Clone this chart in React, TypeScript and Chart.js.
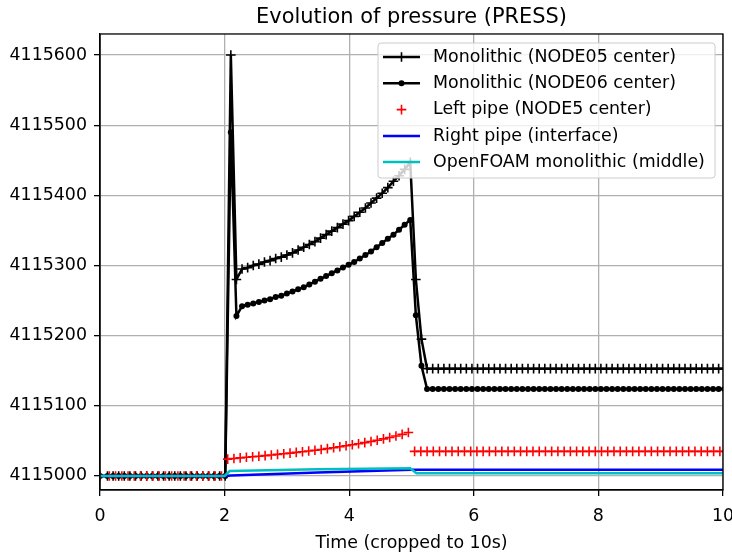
import React, { useEffect, useRef } from 'react';
import { Chart, registerables } from 'chart.js';

Chart.register(...registerables);

const TITLE = 'Evolution of pressure (PRESS)';
const X_LABEL = 'Time (cropped to 10s)';
const X_TICKS = [0, 2, 4, 6, 8, 10];
const Y_TICKS = [4115000, 4115100, 4115200, 4115300, 4115400, 4115500, 4115600];
const SERIES_NAMES = [
  'Monolithic (NODE05 center)',
  'Monolithic (NODE06 center)',
  'Left pipe (NODE5 center)',
  'Right pipe (interface)',
  'OpenFOAM monolithic (middle)',
];

const monoTimes = [
  0, 0.12, 0.21, 0.3, 0.39, 0.48, 0.57, 0.66, 0.75, 0.84,
  0.93, 1.02, 1.11, 1.2, 1.29, 1.38, 1.47, 1.56, 1.65, 1.74,
  1.83, 1.92, 2.01,
  2.1, 2.19, 2.28, 2.37, 2.46, 2.55, 2.64, 2.73, 2.82, 2.91,
  3.0, 3.09, 3.18, 3.27, 3.36, 3.45, 3.54, 3.63, 3.72, 3.81,
  3.9, 3.99, 4.08, 4.17, 4.26, 4.35, 4.44, 4.53, 4.62, 4.71,
  4.8, 4.89, 4.98,
  5.07, 5.16,
  5.25, 5.34, 5.43, 5.52, 5.61, 5.7, 5.79, 5.88, 5.97, 6.06,
  6.15, 6.24, 6.33, 6.42, 6.51, 6.6, 6.69, 6.78, 6.87, 6.96,
  7.05, 7.14, 7.23, 7.32, 7.41, 7.5, 7.59, 7.68, 7.77, 7.86,
  7.95, 8.04, 8.13, 8.22, 8.31, 8.4, 8.49, 8.58, 8.67, 8.76,
  8.85, 8.94, 9.03, 9.12, 9.21, 9.3, 9.39, 9.48, 9.57, 9.66,
  9.75, 9.84, 9.93, 10.02,
];

const node05 = [
  4115000, 4115000, 4115000, 4115000, 4115000, 4115000, 4115000, 4115000, 4115000, 4115000,
  4115000, 4115000, 4115000, 4115000, 4115000, 4115000, 4115000, 4115000, 4115000, 4115000,
  4115000, 4115000, 4115000,
  4115600, 4115280, 4115295, 4115297, 4115300, 4115302, 4115305, 4115307, 4115310, 4115312,
  4115315, 4115318, 4115322, 4115326, 4115330, 4115334, 4115339, 4115344, 4115349, 4115354,
  4115359, 4115364, 4115370, 4115376, 4115382, 4115389, 4115396, 4115403, 4115411, 4115420,
  4115428, 4115437, 4115447,
  4115280, 4115195,
  4115153, 4115153, 4115153, 4115153, 4115153, 4115153, 4115153, 4115153, 4115153, 4115153,
  4115153, 4115153, 4115153, 4115153, 4115153, 4115153, 4115153, 4115153, 4115153, 4115153,
  4115153, 4115153, 4115153, 4115153, 4115153, 4115153, 4115153, 4115153, 4115153, 4115153,
  4115153, 4115153, 4115153, 4115153, 4115153, 4115153, 4115153, 4115153, 4115153, 4115153,
  4115153, 4115153, 4115153, 4115153, 4115153, 4115153, 4115153, 4115153, 4115153, 4115153,
  4115153, 4115153, 4115153, 4115153,
];

const node06 = [
  4115000, 4115000, 4115000, 4115000, 4115000, 4115000, 4115000, 4115000, 4115000, 4115000,
  4115000, 4115000, 4115000, 4115000, 4115000, 4115000, 4115000, 4115000, 4115000, 4115000,
  4115000, 4115000, 4115000,
  4115490, 4115228, 4115242, 4115244, 4115246, 4115248, 4115250, 4115252, 4115255, 4115257,
  4115260, 4115263, 4115266, 4115269, 4115273, 4115277, 4115281, 4115285, 4115289, 4115293,
  4115297, 4115301, 4115305, 4115310, 4115315, 4115320, 4115326, 4115332, 4115338, 4115344,
  4115351, 4115358, 4115365,
  4115229, 4115157,
  4115124, 4115124, 4115124, 4115124, 4115124, 4115124, 4115124, 4115124, 4115124, 4115124,
  4115124, 4115124, 4115124, 4115124, 4115124, 4115124, 4115124, 4115124, 4115124, 4115124,
  4115124, 4115124, 4115124, 4115124, 4115124, 4115124, 4115124, 4115124, 4115124, 4115124,
  4115124, 4115124, 4115124, 4115124, 4115124, 4115124, 4115124, 4115124, 4115124, 4115124,
  4115124, 4115124, 4115124, 4115124, 4115124, 4115124, 4115124, 4115124, 4115124, 4115124,
  4115124, 4115124, 4115124, 4115124,
];

const leftTimes = [
  0, 0.15, 0.25, 0.35, 0.45, 0.55, 0.65, 0.75, 0.85, 0.95,
  1.05, 1.15, 1.25, 1.35, 1.45, 1.55, 1.65, 1.75, 1.85, 1.95,
  2.05, 2.15, 2.25, 2.35, 2.45, 2.55, 2.65, 2.75, 2.85, 2.95,
  3.05, 3.15, 3.25, 3.35, 3.45, 3.55, 3.65, 3.75, 3.85, 3.95,
  4.05, 4.15, 4.25, 4.35, 4.45, 4.55, 4.65, 4.75, 4.85, 4.95,
  5.05, 5.15, 5.25, 5.35, 5.45, 5.55, 5.65, 5.75, 5.85, 5.95,
  6.05, 6.15, 6.25, 6.35, 6.45, 6.55, 6.65, 6.75, 6.85, 6.95,
  7.05, 7.15, 7.25, 7.35, 7.45, 7.55, 7.65, 7.75, 7.85, 7.95,
  8.05, 8.15, 8.25, 8.35, 8.45, 8.55, 8.65, 8.75, 8.85, 8.95,
  9.05, 9.15, 9.25, 9.35, 9.45, 9.55, 9.65, 9.75, 9.85, 9.95,
  10.05,
];

const leftPipe = [
  4115000, 4115000, 4115000, 4115000, 4115000, 4115000, 4115000, 4115000, 4115000, 4115000,
  4115000, 4115000, 4115000, 4115000, 4115000, 4115000, 4115000, 4115000, 4115000, 4115000,
  4115024, 4115025, 4115025.8, 4115026.6, 4115027.4, 4115028.2, 4115029, 4115029.9, 4115030.8, 4115031.7,
  4115032.6, 4115033.6, 4115034.6, 4115035.6, 4115036.7, 4115037.8, 4115039, 4115040.3, 4115041.6, 4115043,
  4115044.4, 4115045.9, 4115047.5, 4115049.2, 4115051, 4115052.9, 4115054.9, 4115057, 4115059.3, 4115062,
  4115035, 4115035, 4115035, 4115035, 4115035, 4115035, 4115035, 4115035, 4115035, 4115035,
  4115035, 4115035, 4115035, 4115035, 4115035, 4115035, 4115035, 4115035, 4115035, 4115035,
  4115035, 4115035, 4115035, 4115035, 4115035, 4115035, 4115035, 4115035, 4115035, 4115035,
  4115035, 4115035, 4115035, 4115035, 4115035, 4115035, 4115035, 4115035, 4115035, 4115035,
  4115035, 4115035, 4115035, 4115035, 4115035, 4115035, 4115035, 4115035, 4115035, 4115035,
  4115035,
];

const rightTimes = [0, 2.0, 2.1, 3.5, 5.0, 10.0];
const rightPipe = [4115000, 4115000, 4115000.5, 4115005, 4115009, 4115009];

const foamTimes = [0, 2.0, 2.08, 3.5, 4.98, 5.08, 10.0];
const foamMiddle = [4115000, 4115000, 4115007, 4115009.5, 4115011, 4115004, 4115004];

const COLORS = ['#000000', '#000000', '#ff0000', '#0000ff', '#00bfbf'];

const FONT = '"DejaVu Sans", Verdana, sans-serif';
const FS = 17.4;

function pts(xs: number[], ys: number[]) {
  return xs.map((x, i) => ({ x, y: ys[i] }));
}

const frameLegendPlugin = {
  id: 'frameLegend',
  afterDatasetsDraw(chart: any) {
    const { ctx, chartArea } = chart;
    const { left, top, right, bottom } = chartArea;
    ctx.save();
    // spines
    ctx.strokeStyle = '#000';
    ctx.lineWidth = 1.3;
    ctx.strokeRect(left, top, right - left, bottom - top);

    // legend box
    const bx = 378, by = 43, bw = 337, bh = 135, r = 3;
    ctx.beginPath();
    ctx.moveTo(bx + r, by);
    ctx.lineTo(bx + bw - r, by);
    ctx.quadraticCurveTo(bx + bw, by, bx + bw, by + r);
    ctx.lineTo(bx + bw, by + bh - r);
    ctx.quadraticCurveTo(bx + bw, by + bh, bx + bw - r, by + bh);
    ctx.lineTo(bx + r, by + bh);
    ctx.quadraticCurveTo(bx, by + bh, bx, by + bh - r);
    ctx.lineTo(bx, by + r);
    ctx.quadraticCurveTo(bx, by, bx + r, by);
    ctx.closePath();
    ctx.fillStyle = 'rgba(255,255,255,0.8)';
    ctx.fill();
    ctx.strokeStyle = '#cccccc';
    ctx.lineWidth = 1;
    ctx.stroke();

    const rowY = [57, 83.2, 109.6, 136, 162];
    const x0 = 383, x1 = 420, mx = 401.5, tx = 433;
    ctx.font = FS + 'px ' + FONT;
    ctx.textBaseline = 'middle';
    ctx.textAlign = 'left';
    SERIES_NAMES.forEach((name, i) => {
      const y = rowY[i];
      const c = COLORS[i];
      if (i !== 2) {
        ctx.strokeStyle = c;
        ctx.lineWidth = 2.5;
        ctx.beginPath();
        ctx.moveTo(x0, y);
        ctx.lineTo(x1, y);
        ctx.stroke();
      }
      if (i === 0 || i === 2) {
        ctx.strokeStyle = c;
        ctx.lineWidth = 1.6;
        ctx.beginPath();
        ctx.moveTo(mx - 4.8, y);
        ctx.lineTo(mx + 4.8, y);
        ctx.moveTo(mx, y - 4.8);
        ctx.lineTo(mx, y + 4.8);
        ctx.stroke();
      }
      if (i === 1) {
        ctx.fillStyle = c;
        ctx.beginPath();
        ctx.arc(mx, y, 3, 0, Math.PI * 2);
        ctx.fill();
      }
      ctx.fillStyle = '#000';
      ctx.fillText(name, tx, y);
    });
    ctx.restore();
  },
};

export default function App() {
  const ref = useRef<HTMLCanvasElement>(null);

  useEffect(() => {
    if (!ref.current) return;
    const chart = new Chart(ref.current, {
      type: 'line',
      data: {
        datasets: [
          {
            label: SERIES_NAMES[0],
            data: pts(monoTimes, node05),
            borderColor: COLORS[0],
            backgroundColor: COLORS[0],
            borderWidth: 2.5,
            pointStyle: 'cross',
            pointRadius: 4.8,
            pointBorderWidth: 1.6,
            pointBorderColor: COLORS[0],
            tension: 0,
            order: 5,
          },
          {
            label: SERIES_NAMES[1],
            data: pts(monoTimes, node06),
            borderColor: COLORS[1],
            backgroundColor: COLORS[1],
            borderWidth: 2.5,
            pointStyle: 'circle',
            pointRadius: 3,
            pointBorderWidth: 0,
            pointBackgroundColor: COLORS[1],
            tension: 0,
            order: 4,
          },
          {
            label: SERIES_NAMES[2],
            data: pts(leftTimes, leftPipe),
            borderColor: COLORS[2],
            backgroundColor: COLORS[2],
            showLine: false,
            pointStyle: 'cross',
            pointRadius: 4.8,
            pointBorderWidth: 1.6,
            pointBorderColor: COLORS[2],
            order: 3,
          },
          {
            label: SERIES_NAMES[3],
            data: pts(rightTimes, rightPipe),
            borderColor: COLORS[3],
            backgroundColor: COLORS[3],
            borderWidth: 2.5,
            pointRadius: 0,
            tension: 0,
            order: 2,
          },
          {
            label: SERIES_NAMES[4],
            data: pts(foamTimes, foamMiddle),
            borderColor: COLORS[4],
            backgroundColor: COLORS[4],
            borderWidth: 2.5,
            pointRadius: 0,
            tension: 0,
            order: 1,
          },
        ],
      },
      options: {
        responsive: false,
        animation: false,
        events: [],
        layout: { padding: { left: 0, right: 9, top: 0, bottom: 0 } },
        plugins: {
          legend: { display: false },
          tooltip: { enabled: false },
          title: {
            display: true,
            text: TITLE,
            fullSize: false,
            color: '#000',
            font: { family: FONT, size: 20.9, weight: 'normal' },
            padding: { top: 5, bottom: 3.9 },
          },
        },
        scales: {
          x: {
            type: 'linear',
            min: 0,
            max: 10,
            afterBuildTicks: (axis: any) => {
              axis.ticks = X_TICKS.map((v) => ({ value: v }));
            },
            afterFit: (axis: any) => {
              axis.height = 64;
              axis.paddingLeft = 0;
              axis.paddingRight = 0;
            },
            grid: {
              color: '#b0b0b0',
              lineWidth: 1.3,
              tickColor: '#000',
              tickLength: 6,
              tickWidth: 1.3,
            },
            border: { display: true, color: '#000', width: 1.3 },
            ticks: {
              color: '#000',
              font: { family: FONT, size: FS },
              padding: 10,
              maxRotation: 0,
              callback: (v: any) => String(v),
            },
            title: {
              display: true,
              text: X_LABEL,
              color: '#000',
              font: { family: FONT, size: FS },
              padding: { top: 0, bottom: 0 },
            },
          },
          y: {
            type: 'linear',
            min: 4114980,
            max: 4115630,
            afterBuildTicks: (axis: any) => {
              axis.ticks = Y_TICKS.map((v) => ({ value: v }));
            },
            afterFit: (axis: any) => {
              axis.width = 100;
              axis.paddingTop = 0;
              axis.paddingBottom = 0;
            },
            grid: {
              color: '#b0b0b0',
              lineWidth: 1.3,
              tickColor: '#000',
              tickLength: 6,
              tickWidth: 1.3,
            },
            border: { display: true, color: '#000', width: 1.3 },
            ticks: {
              color: '#000',
              font: { family: FONT, size: FS },
              padding: 7,
              callback: (v: any) => String(v),
            },
          },
        },
      },
      plugins: [frameLegendPlugin],
    } as any);
    return () => chart.destroy();
  }, []);

  return (
    <div style={{ position: 'fixed', left: 0, top: 0, width: 732, height: 554, background: '#fff' }}>
      <canvas ref={ref} width={732} height={554} style={{ display: 'block' }} />
    </div>
  );
}
